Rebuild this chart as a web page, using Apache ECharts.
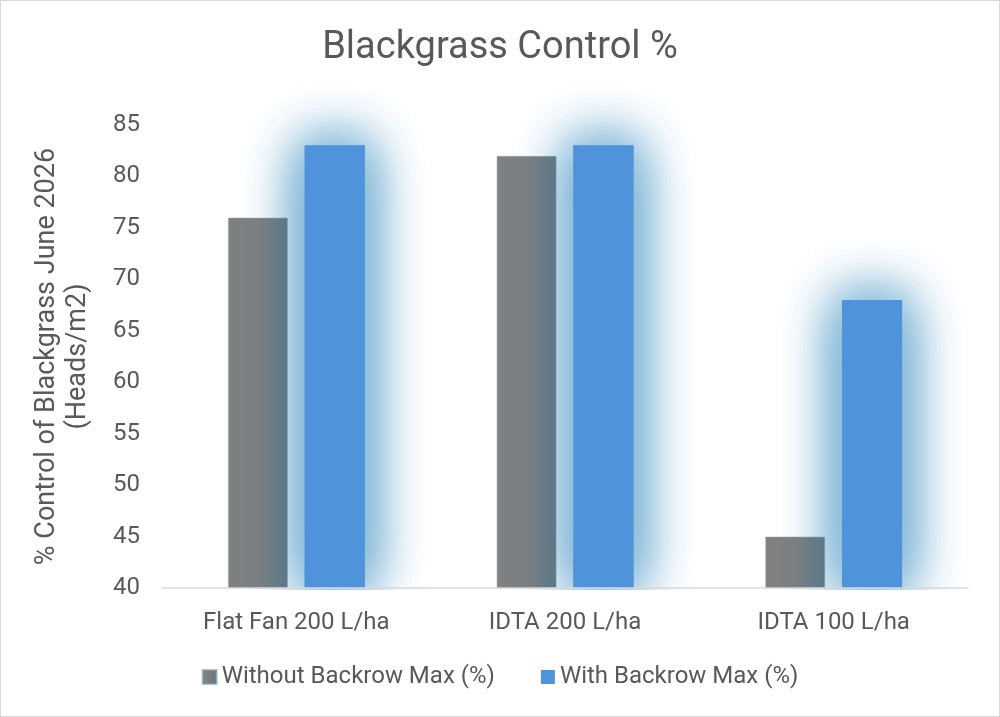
<!DOCTYPE html>
<html>
<head>
<meta charset="utf-8">
<script src="https://cdn.jsdelivr.net/npm/echarts@6/dist/echarts.min.js"></script>
<style>
  html, body { margin: 0; padding: 0; background: #fff; }
  #chart { width: 998px; height: 715px; border: 1px solid #d9d9d9; }
</style>
</head>
<body>
<div id="chart"></div>
<script>
// data
const categories = ['Flat Fan 200 L/ha', 'IDTA 200 L/ha', 'IDTA 100 L/ha']
const without_backrow = [76, 82, 45]
const with_backrow = [83, 83, 68]
const series_names = ['Without Backrow Max (%)', 'With Backrow Max (%)']

const font = 'Roboto, "Open Sans", sans-serif'
const text_color = '#595959'
const bar_width = 60
const bar_gap = '28%'

let chart = echarts.init(document.getElementById('chart'))

let gray_fill = new echarts.graphic.LinearGradient(0, 0, 1, 0, [
    { offset: 0, color: '#808080' },
    { offset: 0.5, color: '#7b7f82' },
    { offset: 1, color: '#5b7889' }
])

// glow: primary blue bar + copies on hidden axes, all with blurred shadow
let glow_style = {
    color: '#4f94da',
    shadowBlur: 56,
    shadowColor: 'rgb(128,182,214)'
}

let glow_layers = 2
let x_axes = [
    {
        type: 'category',
        data: categories,
        z: 6,
        axisLine: { lineStyle: { color: '#d9d9d9', width: 1.5 } },
        axisTick: { show: false },
        axisLabel: { fontFamily: font, fontSize: 24, color: text_color, margin: 23 }
    }
]
let series = [
    {
        name: series_names[0],
        type: 'bar',
        data: without_backrow,
        barWidth: bar_width,
        barGap: bar_gap,
        z: 4,
        itemStyle: {
            color: gray_fill,
            borderColor: 'rgba(140,160,175,0.6)',
            borderWidth: 1
        }
    },
    {
        name: series_names[1],
        type: 'bar',
        data: with_backrow,
        barWidth: bar_width,
        z: 3,
        itemStyle: glow_style
    }
]
for (let i = 1; i <= glow_layers; i++) {
    x_axes.push({ type: 'category', data: categories, show: false })
    series.push({
        name: 'ghost' + i,
        type: 'bar',
        xAxisIndex: i,
        data: without_backrow,
        barWidth: bar_width,
        barGap: bar_gap,
        silent: true,
        z: 1,
        itemStyle: { color: 'rgba(0,0,0,0)' }
    })
    series.push({
        name: 'glow' + i,
        type: 'bar',
        xAxisIndex: i,
        data: with_backrow,
        barWidth: bar_width,
        silent: true,
        z: 2,
        itemStyle: glow_style
    })
}

let option = {
    animation: false,
    title: {
        text: 'Blackgrass Control %',
        left: 'center',
        top: 23,
        textStyle: { fontFamily: font, fontSize: 38, fontWeight: 'normal', color: text_color }
    },
    legend: {
        bottom: 22,
        left: 'center',
        itemWidth: 14,
        itemHeight: 14,
        itemGap: 46,
        icon: 'rect',
        textStyle: { fontFamily: font, fontSize: 24, color: text_color },
        data: series_names
    },
    grid: {
        left: 161,
        right: 31,
        top: 124,
        bottom: 128,
        containLabel: false
    },
    // white strip under the axis so the glow stops at the baseline
    graphic: [{
        type: 'rect',
        z: 5,
        silent: true,
        shape: { x: 150, y: 589, width: 850, height: 60 },
        style: { fill: '#fff' }
    }],
    xAxis: x_axes,
    yAxis: {
        type: 'value',
        min: 40,
        max: 85,
        interval: 5,
        name: '% Control of Blackgrass June 2026\n(Heads/m2)',
        nameLocation: 'middle',
        nameGap: 68,
        nameTextStyle: { fontFamily: font, fontSize: 27, color: text_color, lineHeight: 31 },
        axisLine: { show: false },
        axisTick: { show: false },
        splitLine: { show: false },
        axisLabel: { fontFamily: font, fontSize: 24, color: text_color, margin: 22 }
    },
    series: series
}

chart.setOption(option)
</script>
</body>
</html>
